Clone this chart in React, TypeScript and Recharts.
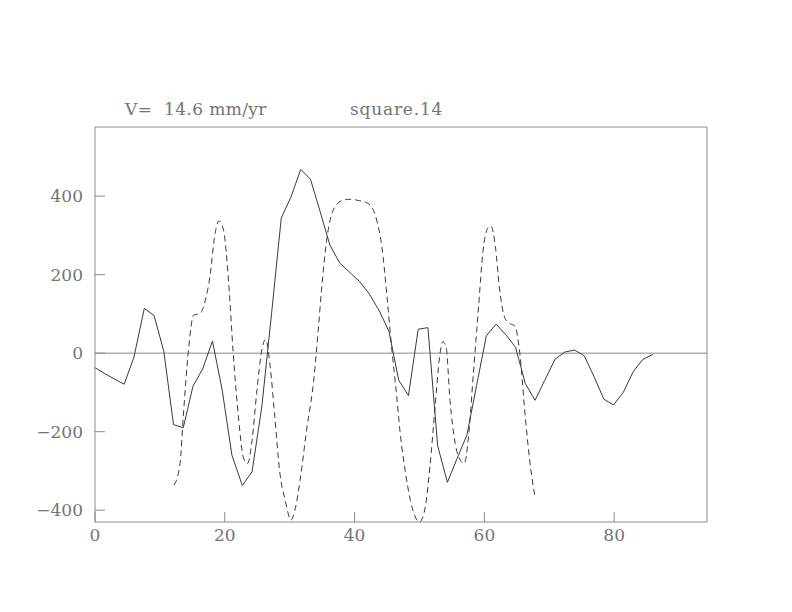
import {
  LineChart,
  Line,
  XAxis,
  YAxis,
  ReferenceLine,
} from "recharts";

// solid trace
const solidX = [
  0, 1.5, 3.0, 4.5, 6.0, 7.6, 9.1, 10.6, 12.1, 13.6, 15.1, 16.6, 18.1, 19.6,
  21.1, 22.7, 24.2, 25.7, 27.2, 28.7, 30.2, 31.7, 33.2, 34.7, 36.2, 37.7,
  39.3, 40.8, 42.3, 43.8, 45.3, 46.8, 48.3, 49.8, 51.3, 52.8, 54.3, 55.8,
  57.3, 58.8, 60.3, 61.8, 63.3, 64.8, 66.3, 67.8, 69.3, 70.9, 72.4, 73.9,
  75.4, 76.9, 78.4, 79.9, 81.4, 82.9, 84.4, 86.0,
];
const solidY = [
  -37, -52, -66, -79, -10, 114, 96, 5, -182, -190, -84, -40, 31, -94, -260,
  -337, -302, -137, 100, 344, 398, 468, 443, 360, 275, 230, 205, 182, 150,
  108, 55, -69, -108, 61, 65, -236, -329, -268, -209, -82, 44, 74, 47, 15,
  -77, -120, -69, -15, 3, 8, -7, -60, -117, -132, -100, -48, -16, -3,
];

// dashed trace
const dashX = [
  12.2, 13.1, 13.6, 14.4, 15.2, 16.2, 17.0, 17.7, 18.5, 19.1, 19.8, 20.6,
  21.3, 22.1, 22.9, 23.5, 24.2, 24.9, 25.7, 26.3, 27.0, 27.7, 28.5, 29.3,
  30.2, 30.8, 31.6, 32.6, 33.7, 34.4, 34.9, 35.7, 36.7, 38.0, 39.3, 40.8,
  42.1, 43.4, 44.2, 45.0, 45.7, 46.5, 47.0, 47.8, 48.6, 49.3, 50.0, 50.9,
  51.6, 52.4, 53.1, 53.6, 54.1, 54.7, 55.5, 56.3, 56.9, 57.5, 58.3, 59.1,
  59.8, 60.5, 61.0, 61.7, 62.3, 63.2, 64.0, 64.7, 65.4, 66.3, 67.1, 67.8,
];
const dashY = [
  -336, -281, -162, 8, 97, 101, 135, 194, 305, 337, 313, 178, -1, -162, -268,
  -281, -222, -103, 8, 35, -35, -162, -307, -374, -425, -400, -324, -196, -69,
  59, 160, 288, 364, 388, 392, 388, 381, 339, 271, 143, 16, -111, -200, -300,
  -375, -415, -430, -391, -290, -137, -9, 29, 16, -120, -230, -273, -281,
  -222, -52, 118, 262, 318, 324, 271, 169, 88, 75, 69, 8, -162, -290, -366,
];

const xTicks = [0, 20, 40, 60, 80];
const yTicks = [-400, -200, 0, 200, 400];

const solidData = solidX.map((x, i) => ({ x, y: solidY[i] }));
const dashData = dashX.map((x, i) => ({ x, y: dashY[i] }));

const AXIS = "#8a8a8a";
const INK = "#3a3a3a";
const TEXT = "#747474";
const FONT = "'DejaVu Serif', serif";
const tickStyle = { fontSize: 17, fill: TEXT, fontFamily: FONT };

// real minus sign, like the plotting package uses
const fmtY = (v: number) => (v < 0 ? `\u2212${Math.abs(v)}` : `${v}`);

export default function App() {
  return (
    <div
      style={{
        position: "absolute",
        left: 0,
        top: 0,
        width: 792,
        height: 612,
        background: "#fff",
      }}
    >
      {/* header texts */}
      <div
        style={{
          position: "absolute",
          left: 125,
          top: 99,
          fontFamily: FONT,
          fontSize: 17,
          color: TEXT,
          whiteSpace: "pre",
          lineHeight: "20px",
          letterSpacing: 0.4,
        }}
      >
        V=  14.6 mm/yr
      </div>
      <div
        style={{
          position: "absolute",
          left: 350,
          top: 99,
          fontFamily: FONT,
          fontSize: 17,
          color: TEXT,
          lineHeight: "20px",
          letterSpacing: 0.8,
        }}
      >
        square.14
      </div>

      <LineChart
        width={792}
        height={612}
        margin={{ top: 117, right: 75, left: 35, bottom: 60 }}
      >
        <XAxis
          xAxisId="bottom"
          dataKey="x"
          type="number"
          domain={[0, 94.3]}
          allowDataOverflow
          ticks={xTicks}
          height={30}
          stroke={AXIS}
          tickSize={-10}
          tickMargin={17}
          tick={tickStyle}
        />
        <XAxis
          xAxisId="top"
          orientation="top"
          dataKey="x"
          type="number"
          domain={[0, 94.3]}
          allowDataOverflow
          ticks={xTicks}
          height={10}
          stroke={AXIS}
          tickSize={-10}
          tick={false}
        />
        <YAxis
          yAxisId="left"
          type="number"
          domain={[-430, 576]}
          allowDataOverflow
          ticks={yTicks}
          width={60}
          stroke={AXIS}
          tickSize={-10}
          tickMargin={22}
          tick={tickStyle}
          tickFormatter={fmtY}
        />
        <YAxis
          yAxisId="right"
          orientation="right"
          type="number"
          domain={[-430, 576]}
          allowDataOverflow
          ticks={yTicks}
          width={10}
          stroke={AXIS}
          tickSize={-10}
          tick={false}
        />
        <ReferenceLine
          xAxisId="bottom"
          yAxisId="left"
          y={0}
          stroke={AXIS}
          strokeWidth={1}
        />
        <Line
          xAxisId="bottom"
          yAxisId="left"
          data={solidData}
          dataKey="y"
          type="linear"
          stroke={INK}
          strokeWidth={1}
          dot={false}
          isAnimationActive={false}
        />
        <Line
          xAxisId="bottom"
          yAxisId="left"
          data={dashData}
          dataKey="y"
          type="monotone"
          stroke={INK}
          strokeWidth={1}
          strokeDasharray="6 4"
          dot={false}
          isAnimationActive={false}
        />
      </LineChart>
    </div>
  );
}
